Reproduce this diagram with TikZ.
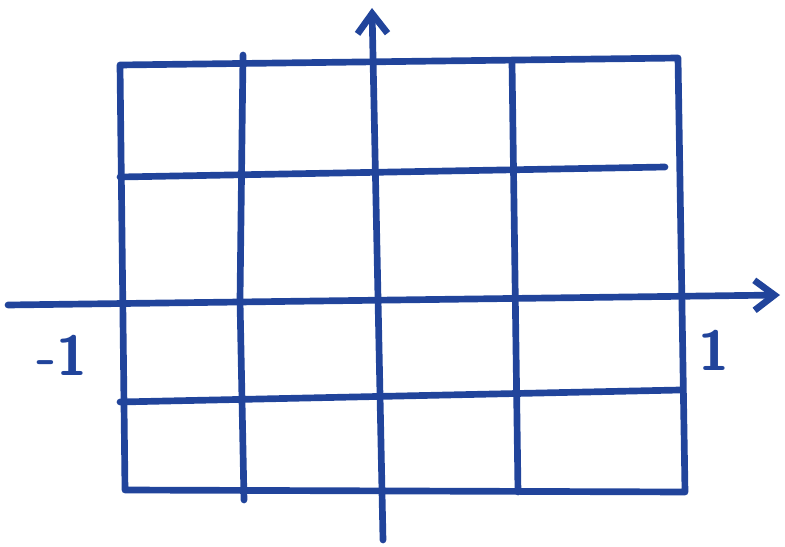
\documentclass[tikz,border=0pt]{standalone}
\usepackage{tikz}
\usetikzlibrary{arrows.meta}
\definecolor{pen}{RGB}{33,68,155}

\begin{document}
\begin{tikzpicture}[
    x=0.02cm, y=-0.02cm,
    grid/.style={draw=pen, line width=3.8pt, line cap=round, line join=round},
    axis/.style={grid, -{Straight Barb[length=4mm, width=6mm]}},
    tick/.style={text=pen, font=\fontsize{32}{32}\selectfont\sffamily\bfseries}
]
    \useasboundingbox (0,0) rectangle (785,547);
    % corners of the grid
    \coordinate (tl) at (120,65);
    \coordinate (tr) at (678,58);
    \coordinate (bl) at (125,490);
    \coordinate (br) at (685,492);
    % frame
    \draw[grid] (tl) -- (tr) -- (br) -- (bl) -- cycle;
    % inner lines
    \draw[grid] (120,177) -- (665,167);
    \draw[grid] (120,402) -- (680,390);
    \draw[grid] (243,55) -- (240,300) -- (244,500);
    \draw[grid] (512,62) -- (518,492);
    % axes
    \coordinate (xs) at (8,305);
    \coordinate (xe) at (780,295);
    \coordinate (ys) at (383,540);
    \coordinate (ye) at (372,8);
    \draw[axis] (xs) -- (xe);
    \draw[axis] (ys) -- (ye);
    % labels
    \node[tick] (m1) at (62,355) {-1};
    \node[tick] (p1) at (714,350) {1};
\end{tikzpicture}
\end{document}
